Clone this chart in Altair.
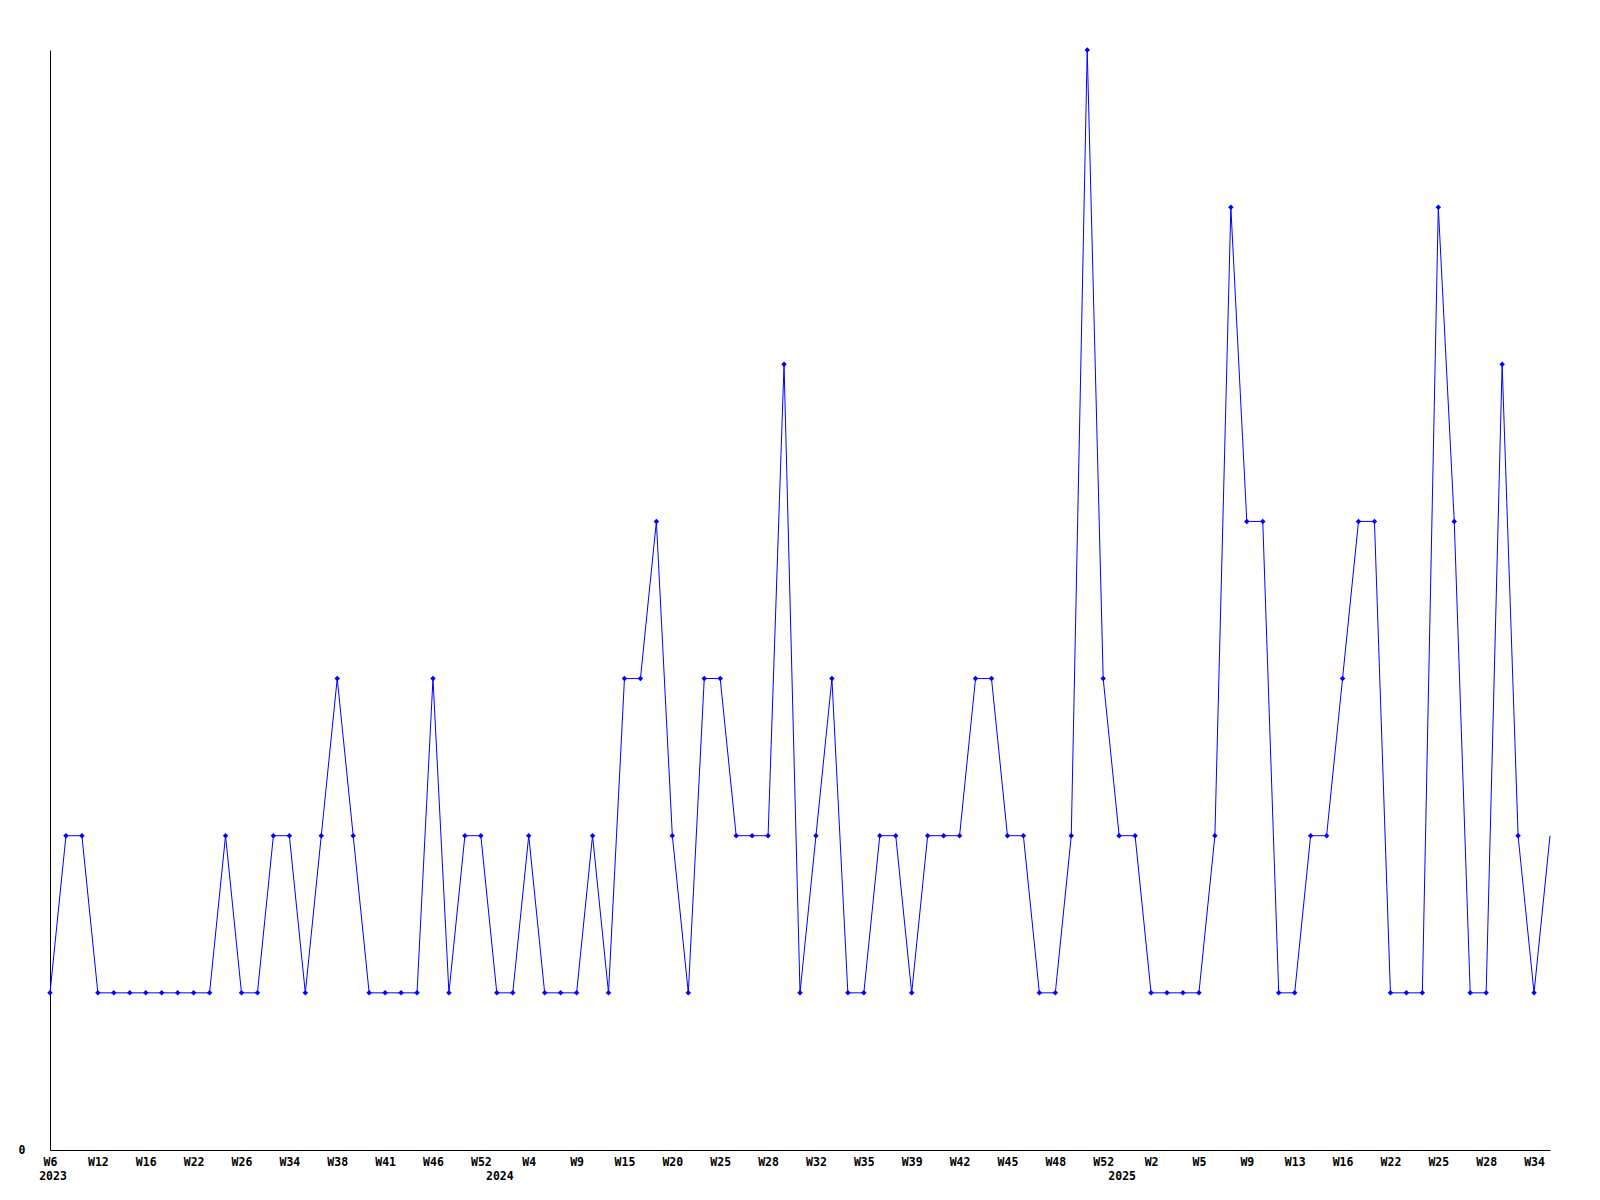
import json
import altair as alt
import pandas as pd

values = [1, 2, 2, 1, 1, 1, 1, 1, 1, 1,
          1, 2, 1, 1, 2, 2, 1, 2, 3, 2,
          1, 1, 1, 1, 3, 1, 2, 2, 1, 1,
          2, 1, 1, 1, 2, 1, 3, 3, 4, 2,
          1, 3, 3, 2, 2, 2, 5, 1, 2, 3,
          1, 1, 2, 2, 1, 2, 2, 2, 3, 3,
          2, 2, 1, 1, 2, 7, 3, 2, 2, 1,
          1, 1, 1, 2, 6, 4, 4, 1, 1, 2,
          2, 3, 4, 4, 1, 1, 1, 6, 4, 1,
          1, 5, 2, 1, 2]

tick_labels = ["W6", "W12", "W16", "W22", "W26", "W34", "W38", "W41", "W46", "W52",
               "W4", "W9", "W15", "W20", "W25", "W28", "W32", "W35", "W39", "W42",
               "W45", "W48", "W52", "W2", "W5", "W9", "W13", "W16", "W22", "W25",
               "W28", "W34"]

years = ["2023", "2024", "2025"]
year_index = [0, 28, 67]

df = pd.DataFrame({"i": list(range(len(values))), "v": values})
ydf = pd.DataFrame({"i": year_index, "year": years})

W, H = 1500, 1100
FONT = "DejaVu Sans Mono"
FS = 11.5
n_last = len(values) - 1

xscale = alt.Scale(domain=[0, n_last], nice=False, zero=False)
yscale = alt.Scale(domain=[0, 7], nice=False)

tick_vals = list(range(0, 3 * len(tick_labels), 3))
label_expr = json.dumps(tick_labels) + "[round(datum.value / 3)]"

xaxis = alt.Axis(values=tick_vals, labelExpr=label_expr, title=None, grid=False,
                 ticks=False, domainColor="black", domainWidth=1,
                 labelFont=FONT, labelFontSize=FS, labelFontWeight="bold",
                 labelColor="black", labelPadding=6, labelBaseline="top",
                 labelAlign="center", labelFlush=False, labelOverlap=False)
yaxis = alt.Axis(values=[0], format="d", title=None, grid=False, ticks=False,
                 domainColor="black", domainWidth=1,
                 labelFont=FONT, labelFontSize=FS, labelFontWeight="bold",
                 labelColor="black", labelPadding=25, labelBaseline="middle")

base = alt.Chart(df)
line = base.mark_line(color="#0000ff", strokeWidth=1).encode(
    x=alt.X("i:Q", scale=xscale, axis=xaxis),
    y=alt.Y("v:Q", scale=yscale, axis=yaxis),
)
pts = base.transform_filter(f"datum.i < {n_last}").mark_point(
    shape="diamond", filled=True, size=30, color="#0000ff", opacity=1
).encode(
    x=alt.X("i:Q", scale=xscale),
    y=alt.Y("v:Q", scale=yscale),
)
yr = alt.Chart(ydf).mark_text(
    font=FONT, fontSize=FS, fontWeight="bold", color="black",
    baseline="top", align="center", dx=3
).encode(
    x=alt.X("i:Q", scale=xscale),
    y=alt.value(H + 21),
    text="year:N",
)

chart = alt.layer(line, pts, yr).properties(
    width=W, height=H,
    background="white",
    autosize=alt.AutoSizeParams(type="none"),
    padding={"left": 42, "top": 42, "right": 42, "bottom": 42},
).configure_view(stroke=None)

chart.save("out.html", embed_options={"renderer": "svg", "actions": False})
